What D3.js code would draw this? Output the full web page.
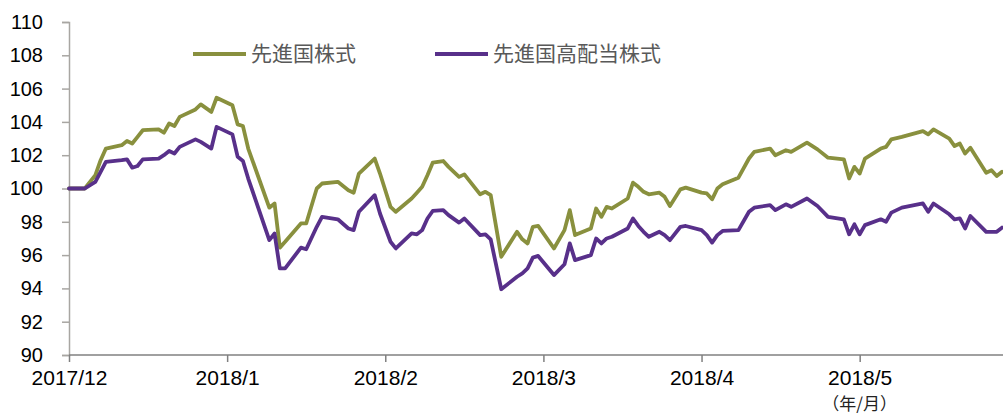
<!DOCTYPE html>
<html><head><meta charset="utf-8">
<script src="https://cdn.jsdelivr.net/npm/d3@7"></script>
<style>
html,body{margin:0;padding:0;background:#fff;}
svg{display:block;}
</style></head>
<body>
<svg id="chart" width="1003" height="415"></svg>
<script>
// trading-day positions (day index from 2017/12 start)
const days = [0,3,5,6,7,10,11,12,13,14,17,18,19,20,21,24,25,27,28,31,32,33,34,38,39,40,41,44,45,47,48,51,53,54,55,58,59,61,62,65,66,67,68,69,71,72,74,75,78,79,80,82,85,86,87,88,89,92,94,95,96,99,100,101,102,103,106,107,108,109,110,112,113,114,116,117,120,121,122,123,124,127,129,130,133,134,136,137,140,142,144,147,148,149,150,151,154,155,156,158,162,163,164,167,168,169,170,171,174,175,176,177];
// 先進国株式
const developed = [100,100,100.8,101.7,102.4,102.6,102.85,102.7,103.1,103.5,103.55,103.35,103.9,103.75,104.3,104.75,105.05,104.6,105.45,105.0,103.85,103.75,102.4,98.85,99.1,96.45,96.8,97.9,97.9,100.0,100.3,100.4,99.9,99.75,100.9,101.8,100.9,98.9,98.6,99.4,99.75,100.1,100.8,101.55,101.65,101.3,100.7,100.85,99.65,99.8,99.6,95.9,97.4,96.95,96.7,97.7,97.75,96.4,97.5,98.7,97.2,97.6,98.8,98.3,98.9,98.8,99.4,100.35,100.1,99.8,99.65,99.75,99.5,98.95,99.95,100.05,99.75,99.7,99.35,100.0,100.25,100.65,101.8,102.2,102.4,102.0,102.3,102.2,102.75,102.35,101.85,101.75,100.6,101.3,100.9,101.8,102.4,102.5,102.95,103.1,103.45,103.25,103.55,103.0,102.55,102.7,102.1,102.45,100.95,101.1,100.75,101.0];
// 先進国高配当株式
const highDividend = [100,100,100.4,101.0,101.6,101.7,101.75,101.25,101.35,101.75,101.8,102.0,102.25,102.1,102.5,102.95,102.8,102.4,103.7,103.25,101.9,101.65,100.6,96.9,97.3,95.2,95.2,96.45,96.35,97.7,98.3,98.15,97.6,97.5,98.6,99.6,98.5,96.8,96.4,97.3,97.25,97.5,98.2,98.65,98.7,98.4,97.95,98.2,97.2,97.25,96.95,93.95,94.7,94.9,95.2,95.85,95.95,94.8,95.45,96.7,95.7,96.0,97.0,96.7,97.0,97.1,97.6,98.2,97.75,97.4,97.1,97.4,97.2,96.9,97.7,97.75,97.5,97.2,96.75,97.2,97.45,97.5,98.6,98.85,99.0,98.7,99.05,98.9,99.4,98.95,98.3,98.15,97.25,97.85,97.25,97.8,98.15,98.0,98.55,98.85,99.1,98.6,99.1,98.45,98.15,98.2,97.6,98.35,97.4,97.4,97.4,97.65];
const seriesNames = ["先進国株式","先進国高配当株式"];
const seriesColors = ["#89903e","#58308a"];
const yTicks = [90,92,94,96,98,100,102,104,106,108,110];
const xTickDays = [0,30,60,90,120,150];
const xTickLabels = ["2017/12","2018/1","2018/2","2018/3","2018/4","2018/5"];
const unitLabel = "（年/月）";

const svg = d3.select("#chart");
const x = d3.scaleLinear().domain([0,177]).range([69,1002]);
const y = d3.scaleLinear().domain([90,110]).range([355,22]);

// y axis
const yAxis = d3.axisLeft(y).tickValues(yTicks).tickSize(7).tickPadding(19).tickFormat(d3.format("d"));
const gy = svg.append("g").attr("transform","translate(69,0)").call(yAxis);
gy.selectAll("path,line").attr("stroke","#a8a6a2").attr("stroke-width",1.5);
gy.selectAll("text").attr("font-family","Liberation Sans, Arial, sans-serif").attr("font-size","20px").attr("fill","#000");

// x axis
const xAxis = d3.axisBottom(x).tickValues(xTickDays).tickSize(7).tickPadding(8)
  .tickFormat((d,i)=>xTickLabels[i]);
const gx = svg.append("g").attr("transform","translate(0,355)").call(xAxis);
gx.select(".domain").attr("d","M69,0H1003");
gx.selectAll("path,line").attr("stroke","#808080").attr("stroke-width",1.5);
gx.selectAll("text").attr("font-family","Liberation Sans, Arial, sans-serif").attr("font-size","21px").attr("fill","#000");

svg.append("text").attr("x",x(150)).attr("y",410).attr("text-anchor","middle")
  .attr("font-family","Noto Sans CJK JP, sans-serif").attr("font-size","17px").attr("fill","#222")
  .text(unitLabel);

// lines
const line = d3.line().x((d,i)=>x(days[i])).y(d=>y(d));
[developed, highDividend].forEach((vals,k)=>{
  svg.append("path").datum(vals).attr("d",line)
    .attr("fill","none").attr("stroke",seriesColors[k]).attr("stroke-width",3.8)
    .attr("stroke-linejoin","round").attr("stroke-linecap","round");
});

// legend
const legendX = [193,435];
seriesNames.forEach((name,k)=>{
  const g = svg.append("g").attr("transform",`translate(${legendX[k]},54)`);
  g.append("line").attr("x1",0).attr("x2",53).attr("y1",0).attr("y2",0)
    .attr("stroke",seriesColors[k]).attr("stroke-width",4);
  g.append("text").attr("x",58).attr("y",0).attr("dy","0.35em")
    .attr("font-family","Noto Sans CJK JP, sans-serif").attr("font-size","21px").attr("fill","#595959")
    .text(name);
});
</script>
</body></html>
